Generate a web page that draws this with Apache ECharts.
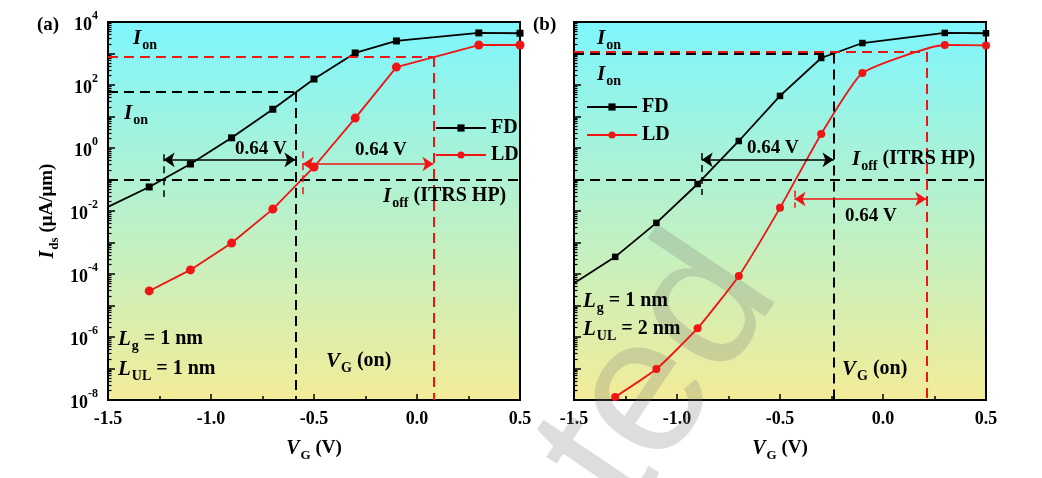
<!DOCTYPE html>
<html><head><meta charset="utf-8">
<script src="https://cdn.jsdelivr.net/npm/echarts@6/dist/echarts.min.js"></script>
<style>html,body{margin:0;padding:0;background:#fff}#c{width:1042px;height:478px}</style>
</head><body><div id="c"></div>
<script>
// ---------- data ----------
const vg   = [-1.5, -1.3, -1.1, -0.9, -0.7, -0.5, -0.3, -0.1, 0.3, 0.5];
const fdA  = [0.0135, 0.058, 0.31, 2.1, 17, 155, 1040, 2500, 4500, 4400];
const ldA  = [null, 2.9e-5, 1.35e-4, 9.6e-4, 0.0115, 0.25, 8.9, 370, 1860, 1860];
const fdB  = [5.1e-5, 3.5e-4, 4.2e-3, 0.072, 1.67, 45, 720, 2150, 4500, 4400];
const ldB  = [null, 1.25e-8, 9.6e-8, 1.9e-6, 8.7e-5, 0.0126, 2.8, 240, 1860, 1800];
const xTickLabels = ['-1.5', '-1.0', '-0.5', '0.0', '0.5'];
const yLabelExps  = [4, 2, 0, -2, -4, -6, -8];
const yDecadeExps = [4, 3, 2, 1, 0, -1, -2, -3, -4, -5, -6, -7, -8];
const minorMult   = [2, 3, 4, 5, 6, 7, 8, 9];
const ioff = 0.1;
// reference lines: [FD, LD]
const ionA = [60, 770];
const vonA = [-0.59, 0.08];
const ionB = [1000, 1120];
const vonB = [-0.24, 0.21];
// arrows: [xStart, xEnd, y]
const arrowA = [[-1.23, -0.59, 0.42], [-0.555, 0.08, 0.31]];
const arrowB = [[-0.88, -0.24, 0.42], [-0.43, 0.21, 0.024]];
// small end bars: [x, yTop, yBottom]
const barA = [[-1.23, 0.63, 0.028], [-0.555, 0.79, 0.032]];
const barB = [[-0.88, 0.7, 0.032], [-0.43, 0.045, 0.0126]];

// ---------- style ----------
const F = 'Liberation Serif';
const BLACK = '#000000', RED = '#f01414';
const X_MIN = -1.5, X_MAX = 0.5, Y_MIN = 1e-8, Y_MAX = 1e4;
const grids = [
  {left: 108, top: 22, width: 412, height: 378},
  {left: 574, top: 22, width: 412, height: 378}
];

function lrich(size, extra) {
  return Object.assign({fontFamily: F, fontWeight: 'bold', fontSize: size, color: '#000', fill: '#000'}, extra || {});
}
const subRich = {
  n: lrich(20, {verticalAlign: 'top'}),
  i: lrich(21, {fontStyle: 'italic', verticalAlign: 'top'}),
  s: lrich(14, {verticalAlign: 'top', padding: [10, 0, 0, 1]})
};
const axRich = {
  n: lrich(19, {verticalAlign: 'top'}),
  i: lrich(20, {fontStyle: 'italic', verticalAlign: 'top'}),
  s: lrich(13, {verticalAlign: 'top', padding: [10, 0, 0, 1]})
};
const supRich = {
  b: lrich(18, {verticalAlign: 'top', padding: [6, 0, 0, 0]}),
  s: lrich(12, {verticalAlign: 'top'})
};

const decades = yDecadeExps.map(e => Number('1e' + e));
const labelVals = yLabelExps.map(e => Number('1e' + e));
const minorVals = [];
yDecadeExps.slice(1).forEach(e => minorMult.forEach(m => minorVals.push(Number(m + 'e' + e))));

function pairs(ys) {
  return vg.map((x, k) => [x, ys[k]]).filter(p => p[1] != null);
}

function refLines(ion, von, arrow, bar, color, withIoff) {
  const dash = {type: [10, 6], width: 2, color: color};
  const items = [
    [{coord: [X_MIN, ion], lineStyle: dash}, {coord: [von, ion]}],
    [{coord: [von, ion], lineStyle: dash}, {coord: [von, Y_MIN]}],
    [{coord: [arrow[0], arrow[2]], symbol: 'arrow', lineStyle: {type: 'solid', width: 1.6, color: color}},
     {coord: [arrow[1], arrow[2]], symbol: 'arrow'}],
    [{coord: [bar[0], bar[1]], lineStyle: {type: [7, 5], width: 1.5, color: color}}, {coord: [bar[0], bar[2]]}]
  ];
  if (withIoff) {
    items.push([{coord: [X_MIN, ioff], lineStyle: {type: [10, 6], width: 2, color: BLACK}}, {coord: [X_MAX, ioff]}]);
  }
  return {silent: true, symbol: ['none', 'none'], symbolSize: 11, label: {show: false}, animation: false, data: items};
}

const xAxes = [], yAxes = [], series = [];
[0, 1].forEach(i => {
  xAxes.push({
    type: 'value', gridIndex: i, min: X_MIN, max: X_MAX, interval: 0.5,
    axisLine: {show: true, onZero: false, lineStyle: {color: '#000', width: 2}},
    axisTick: {show: true, inside: true, length: 6, lineStyle: {color: '#000', width: 1.5}},
    minorTick: {show: true, splitNumber: 2, length: 4, lineStyle: {color: '#000', width: 1.5}},
    splitLine: {show: false}, minorSplitLine: {show: false},
    axisLabel: {
      show: true, margin: 10, showMinLabel: true, showMaxLabel: true, hideOverlap: false,
      formatter: v => xTickLabels[Math.round((v - X_MIN) / 0.5)],
      fontFamily: F, fontWeight: 'bold', fontSize: 18, color: '#000'
    },
    name: '{i|V}{s|G}{n| (V)}', nameLocation: 'middle', nameGap: 39,
    nameTextStyle: {rich: axRich}
  });
  yAxes.push({
    type: 'log', logBase: 10, gridIndex: i, min: Y_MIN, max: Y_MAX, position: 'left',
    axisLine: {show: true, onZero: false, lineStyle: {color: '#000', width: 2}},
    axisTick: {show: true, inside: true, length: 7, customValues: decades, lineStyle: {color: '#000', width: 1.5}},
    splitLine: {show: false},
    axisLabel: {
      show: i === 0, margin: 10, customValues: labelVals, hideOverlap: false,
      formatter: v => '{b|10}{s|' + Math.round(Math.log10(v)) + '}',
      rich: supRich
    },
    name: i === 0 ? '{i|I}{s|ds}{n| (μA/μm)}' : '', nameLocation: 'middle', nameRotate: 90, nameGap: 47,
    nameTextStyle: {rich: axRich}
  });
  yAxes.push({
    type: 'log', logBase: 10, gridIndex: i, min: Y_MIN, max: Y_MAX, position: 'left', offset: 0,
    axisLine: {show: false, onZero: false},
    axisTick: {show: true, inside: true, length: 3.5, customValues: minorVals, lineStyle: {color: '#000', width: 1.2}},
    axisLabel: {show: false}, splitLine: {show: false}
  });
});

const panels = [
  {fd: fdA, ld: ldA, ion: ionA, von: vonA, arrow: arrowA, bar: barA, fs: 7, ls: 9},
  {fd: fdB, ld: ldB, ion: ionB, von: vonB, arrow: arrowB, bar: barB, fs: 6.5, ls: 8}
];
panels.forEach((p, i) => {
  series.push({
    name: 'FD', type: 'line', xAxisIndex: i, yAxisIndex: 2 * i,
    data: pairs(p.fd), symbol: 'rect',
    symbolSize: v => (v[0] <= X_MIN ? 0 : p.fs),
    lineStyle: {color: BLACK, width: 1.8}, itemStyle: {color: BLACK},
    animation: false, z: 4,
    markLine: refLines(p.ion[0], p.von[0], p.arrow[0], p.bar[0], BLACK, true)
  });
  series.push({
    name: 'LD', type: 'line', xAxisIndex: i, yAxisIndex: 2 * i,
    data: pairs(p.ld), symbol: 'circle', symbolSize: p.ls,
    smooth: i === 1 ? 0.15 : false,
    lineStyle: {color: RED, width: 1.8}, itemStyle: {color: RED},
    animation: false, z: 4,
    markLine: refLines(p.ion[1], p.von[1], p.arrow[1], p.bar[1], RED, false)
  });
});

function txt(x, y, text) {
  return {
    type: 'text', x: x, y: y, z: 20, silent: true,
    style: {text: text, rich: subRich, fill: '#000', verticalAlign: 'top', align: 'left',
            font: 'bold 20px "Liberation Serif"'}
  };
}
function plain(x, y, text) {
  return {type: 'text', x: x, y: y, z: 20, silent: true,
          style: {text: text, fill: '#000', verticalAlign: 'middle', align: 'left', font: 'bold 19px "Liberation Serif"'}};
}

const graphics = [
  {type: 'text', x: 737, y: 262, rotation: 56 * Math.PI / 180, z: 1, silent: true,
   style: {text: 'Accepted', fontSize: 195, fontFamily: 'Liberation Sans', font: '195px "Liberation Sans"',
           fill: 'rgba(120,120,120,0.25)', align: 'right', verticalAlign: 'middle'}},
  plain(37, 25, '(a)'),
  plain(533, 25, '(b)'),
  txt(133, 28, '{i|I}{s|on}'),
  txt(124, 103, '{i|I}{s|on}'),
  plain(235, 149, '0.64 V'),
  plain(355, 150, '0.64 V'),
  txt(383, 186, '{i|I}{s|off}{n| (ITRS HP)}'),
  txt(118, 329, '{i|L}{s|g}{n| = 1 nm}'),
  txt(118, 359, '{i|L}{s|UL}{n| = 1 nm}'),
  txt(326, 351, '{i|V}{s|G}{n| (on)}'),
  txt(597, 28, '{i|I}{s|on}'),
  txt(597, 64, '{i|I}{s|on}'),
  plain(747, 148, '0.64 V'),
  txt(852, 149, '{i|I}{s|off}{n| (ITRS HP)}'),
  plain(845, 216, '0.64 V'),
  txt(583, 291, '{i|L}{s|g}{n| = 1 nm}'),
  txt(583, 319, '{i|L}{s|UL}{n| = 2 nm}'),
  txt(842, 359, '{i|V}{s|G}{n| (on)}')
];

function legendAt(left, top, gap) {
  return {
    show: true, data: ['FD', 'LD'], orient: 'vertical', left: left, top: top,
    itemWidth: 50, itemHeight: 9, itemGap: gap, selectedMode: false,
    textStyle: {fontFamily: F, fontWeight: 'bold', fontSize: 20, color: '#000'}
  };
}

const gridOpts = grids.map(g => Object.assign({
  show: true, borderColor: '#000', borderWidth: 2, containLabel: false,
  backgroundColor: new echarts.graphic.LinearGradient(0, 0, 0, 1, [
    {offset: 0, color: '#7ef6fd'}, {offset: 1, color: '#f3ec98'}
  ])
}, g));

const chart = echarts.init(document.getElementById('c'), null, {renderer: 'canvas'});
chart.setOption({
  animation: false,
  backgroundColor: '#ffffff',
  grid: gridOpts,
  xAxis: xAxes,
  yAxis: yAxes,
  legend: [legendAt(430, 113, 7), legendAt(581, 92, 8)],
  series: series,
  graphic: graphics
});
</script>
</body></html>
